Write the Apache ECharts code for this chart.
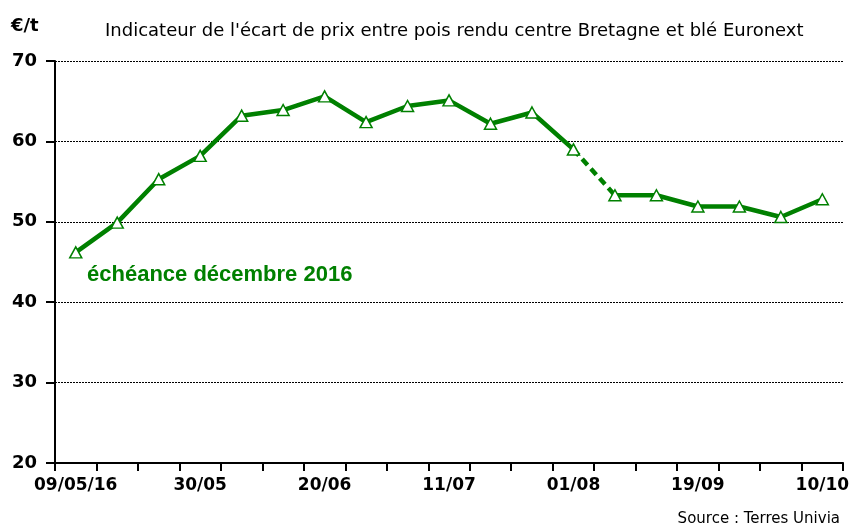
<!DOCTYPE html>
<html>
<head>
<meta charset="utf-8">
<script src="https://cdn.jsdelivr.net/npm/echarts@6/dist/echarts.min.js"></script>
<style>
  html, body { margin: 0; padding: 0; background: #fff; }
  #chart { width: 852px; height: 529px; }
</style>
</head>
<body>
<div id="chart"></div>
<script>
const categories = ['09/05/16','16/05','23/05','30/05','06/06','13/06','20/06','27/06','04/07','11/07','18/07','25/07','01/08','05/09','12/09','19/09','26/09','03/10','10/10'];
const values = [46.2, 49.9, 55.3, 58.2, 63.2, 63.9, 65.6, 62.4, 64.4, 65.1, 62.2, 63.6, 59.0, 53.3, 53.3, 51.9, 51.9, 50.6, 52.8];
const dashedFrom = 12; // dashed segment between 01/08 and 05/09
const yTicks = [20, 30, 40, 50, 60, 70];
const titleText = "Indicateur de l'écart de prix entre pois rendu centre Bretagne et blé Euronext";
const unitText = '€/t';
const noteText = 'échéance décembre 2016';
const sourceText = 'Source : Terres Univia';

const green = '#008000';
const solidA = values.map((v, i) => i <= dashedFrom ? v : null);
const solidB = values.map((v, i) => i >= dashedFrom + 1 ? v : null);
const dashed = values.map((v, i) => (i === dashedFrom || i === dashedFrom + 1) ? v : null);

const chart = echarts.init(document.getElementById('chart'), null, { renderer: 'canvas' });
const fontFam = 'DejaVu Sans';
const markerStyle = {
  symbol: 'triangle',
  symbolSize: [12, 11],
  itemStyle: { color: '#fff', borderColor: green, borderWidth: 1.5 }
};
chart.setOption({
  animation: false,
  backgroundColor: '#fff',
  title: {
    text: titleText,
    left: 100, top: 17,
    textStyle: { fontFamily: fontFam, fontSize: 18, fontWeight: 'normal', color: '#000' }
  },
  grid: { left: 55, right: 6, top: 61, bottom: 66, containLabel: false },
  xAxis: {
    type: 'category',
    data: categories,
    boundaryGap: true,
    axisLine: { lineStyle: { color: '#000', width: 2 } },
    axisTick: { show: true, interval: 0, length: 8, lineStyle: { color: '#000', width: 2 } },
    axisLabel: { interval: 2, margin: 14, fontFamily: fontFam, fontSize: 17, fontWeight: 'bold', color: '#000' },
    splitLine: { show: false }
  },
  yAxis: {
    type: 'value',
    min: yTicks[0], max: yTicks[yTicks.length - 1], interval: 10,
    axisLine: { show: true, lineStyle: { color: '#000', width: 2 } },
    axisTick: { show: true, length: 9, lineStyle: { color: '#000', width: 2 } },
    axisLabel: { margin: 18, fontFamily: fontFam, fontSize: 18, fontWeight: 'bold', color: '#000' },
    splitLine: { show: true, lineStyle: { color: '#000', width: 1, type: [2, 1] } }
  },
  series: [
    {
      type: 'line', data: dashed, connectNulls: false, symbol: 'none',
      lineStyle: { color: green, width: 4.5, type: [8, 5] }, z: 2
    },
    Object.assign({
      type: 'line', data: solidA, connectNulls: false,
      lineStyle: { color: green, width: 4.5 }, z: 3
    }, markerStyle),
    Object.assign({
      type: 'line', data: solidB, connectNulls: false,
      lineStyle: { color: green, width: 4.5 }, z: 3
    }, markerStyle)
  ],
  graphic: [
    { type: 'text', left: 11, top: 17, style: { text: unitText, fontFamily: fontFam, fontSize: 18, fontWeight: 'bold', fill: '#000' } },
    { type: 'text', left: 87, top: 264, style: { text: noteText, fontFamily: 'Liberation Sans', fontSize: 22, fontWeight: 'bold', fill: green } },
    { type: 'text', right: 12, top: 512, style: { text: sourceText, fontFamily: fontFam, fontSize: 15, fill: '#000' } }
  ]
});
</script>
</body>
</html>
